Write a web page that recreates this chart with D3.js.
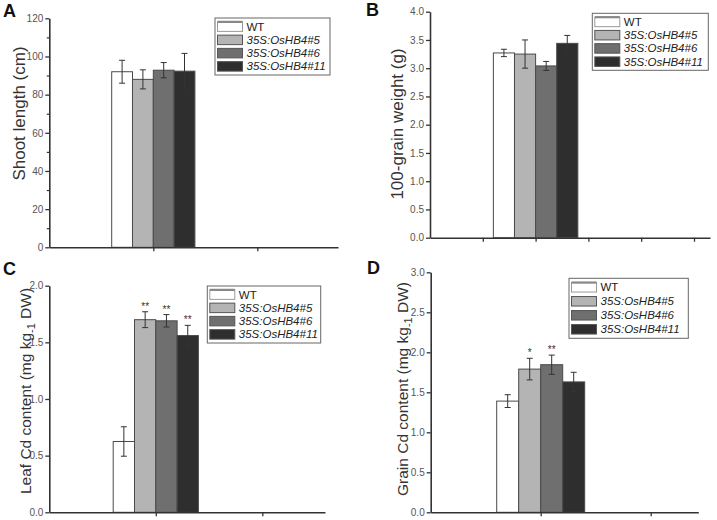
<!DOCTYPE html>
<html><head><meta charset="utf-8">
<script src="https://cdn.jsdelivr.net/npm/d3@7"></script>
<style>body{margin:0;background:#fff}svg{display:block;font-family:Arial,'Liberation Sans',sans-serif}</style>
</head><body><svg id="c" width="717" height="520"></svg>
<script>
// ---- data ----
const genotypes = ["WT", "35S:OsHB4#5", "35S:OsHB4#6", "35S:OsHB4#11"];
const shootLength = [92.0, 88.0, 92.8, 92.3];
const shootLengthErr = [6.0, 5.0, 4.0, 9.3];
const grainWeight = [3.27, 3.25, 3.04, 3.44];
const grainWeightErr = [0.065, 0.25, 0.08, 0.14];
const leafCd = [0.625, 1.70, 1.69, 1.56];
const leafCdErr = [0.13, 0.07, 0.055, 0.09];
const leafCdSig = ["", "**", "**", "**"];
const grainCd = [1.39, 1.79, 1.845, 1.63];
const grainCdErr = [0.08, 0.135, 0.12, 0.12];
const grainCdSig = ["", "*", "**", ""];
const yTicksA = [0, 20, 40, 60, 80, 100, 120];
const yTicksB = [0, 0.5, 1.0, 1.5, 2.0, 2.5, 3.0, 3.5, 4.0];
const yTicksC = [0, 0.5, 1.0, 1.5, 2.0];
const yTicksD = [0, 0.5, 1.0, 1.5, 2.0, 2.5, 3.0];

// ---- styles / layout ----
const fills = ["#ffffff", "#b4b4b4", "#6f6f6f", "#2e2e2e"];
const panels = [
  {letter:"A", v:shootLength, e:shootLengthErr, sig:null, yt:yTicksA, fmt:d3.format("d"), minor:10,
   x0:49.3, x1:338, yB:247.3, yT:18.3, unit:104, xt:[1,2],
   label:["Shoot length (cm)"], lx:19, ly:113.5, fx:3, fy:17, leg:{x:215, y:18, w:115, h:57}},
  {letter:"B", v:grainWeight, e:grainWeightErr, sig:null, yt:yTicksB, fmt:d3.format(".1f"), minor:null,
   x0:430, x1:710, yB:237.7, yT:11.7, unit:105.6, xt:[0.5,1,1.5,2,2.5],
   label:["100-grain weight (g)"], lx:397.5, ly:124, fx:366, fy:16, leg:{x:592.3, y:13.3, w:116, h:57}},
  {letter:"C", v:leafCd, e:leafCdErr, sig:leafCdSig, yt:yTicksC, fmt:d3.format(".1f"), minor:null,
   x0:49.3, x1:325, yB:512.3, yT:285.7, unit:106.5, xt:[1,2],
   label:["Leaf Cd content (mg kg", "-1", " DW)"], lx:25, ly:391, fx:3, fy:275, leg:{x:207.3, y:286, w:113.4, h:57}},
  {letter:"D", v:grainCd, e:grainCdErr, sig:grainCdSig, yt:yTicksD, fmt:d3.format(".1f"), minor:null,
   x0:430.7, x1:698.3, yB:512.3, yT:272.3, unit:110, xt:[1,2],
   label:["Grain Cd content (mg kg", "-1", " DW)"], lx:402, ly:389, fx:367, fy:274, leg:{x:569, y:278.3, w:119.3, h:60}}
];

const svg = d3.select("#c");
svg.append("rect").attr("width",717).attr("height",520).attr("fill","#fff");

panels.forEach(p => {
  const g = svg.append("g");
  const yMax = p.yt[p.yt.length-1];
  const y = d3.scaleLinear().domain([0, yMax]).range([p.yB, p.yT]);
  const x = d3.scaleLinear().domain([0, (p.x1 - p.x0)/p.unit]).range([p.x0, p.x1]);
  const bw = 0.2;

  // bars
  const bars = g.append("g");
  p.v.forEach((val, i) => {
    const xl = 1 + (i - 2) * bw;
    bars.append("rect")
      .attr("x", x(xl)).attr("y", y(val))
      .attr("width", x(xl + bw) - x(xl)).attr("height", y(0) - y(val))
      .attr("fill", fills[i]).attr("stroke", "#4a4a4a").attr("stroke-width", 1);
    const cx = x(xl + bw/2);
    const top = y(val + p.e[i]), bot = y(val - p.e[i]);
    bars.append("line").attr("x1",cx).attr("x2",cx).attr("y1",top).attr("y2",bot).attr("stroke","#333").attr("stroke-width",1);
    [top, bot].forEach(yy => bars.append("line").attr("x1",cx-3).attr("x2",cx+3).attr("y1",yy).attr("y2",yy).attr("stroke","#333").attr("stroke-width",1));
    if (p.sig && p.sig[i]) {
      bars.append("text").attr("x", cx).attr("y", top - 2).attr("text-anchor","middle")
        .attr("font-size", 10).attr("fill","#333").text(p.sig[i]);
    }
  });

  // y axis
  if (p.minor) {
    const minorTicks = d3.range(p.minor, yMax, p.minor * 2);
    g.append("g").attr("transform", `translate(${p.x0},0)`)
      .call(d3.axisLeft(y).tickValues(minorTicks).tickSize(2.5).tickFormat("").tickSizeOuter(0))
      .call(s => s.select(".domain").remove())
      .selectAll("line").attr("stroke","#333").attr("stroke-width",1.2);
  }
  const ya = g.append("g").attr("transform", `translate(${p.x0},0)`)
    .call(d3.axisLeft(y).tickValues(p.yt).tickFormat(p.fmt).tickSize(4).tickPadding(2).tickSizeOuter(0));
  ya.select(".domain").attr("stroke","#333").attr("stroke-width",1.6);
  ya.selectAll(".tick line").attr("stroke","#333").attr("stroke-width",1.3);
  ya.selectAll(".tick text").attr("font-size",10).attr("fill","#555").attr("font-family","Arial,'Liberation Sans',sans-serif");

  // x axis
  const xa = g.append("g").attr("transform", `translate(0,${p.yB})`)
    .call(d3.axisBottom(x).tickValues(p.xt).tickFormat("").tickSize(4).tickSizeOuter(0));
  xa.select(".domain").attr("stroke","#333").attr("stroke-width",1.6);
  xa.selectAll(".tick line").attr("stroke","#333").attr("stroke-width",1.3);

  // y label
  const t = g.append("text").attr("transform", `translate(${p.lx},${p.ly}) rotate(-90)`)
    .attr("text-anchor","middle").attr("dominant-baseline","central")
    .attr("font-size", p.label.length > 1 ? 15.5 : 17).attr("fill","#333");
  if (p.label.length === 1) t.text(p.label[0]);
  else {
    t.append("tspan").text(p.label[0]);
    t.append("tspan").attr("dy", 6).attr("font-size", 11).text(p.label[1]);
    t.append("tspan").attr("dy", -6).text(p.label[2]);
  }

  // panel letter
  g.append("text").attr("x", p.fx).attr("y", p.fy).attr("font-size", 18).attr("font-weight","bold")
    .attr("fill","#111").text(p.letter);

  // legend
  const L = p.leg;
  const lg = g.append("g");
  lg.append("rect").attr("x",L.x).attr("y",L.y).attr("width",L.w).attr("height",L.h)
    .attr("fill","#fff").attr("stroke","#666").attr("stroke-width",1);
  const rowH = (L.h - 4) / 4;
  genotypes.forEach((name, i) => {
    const cy = L.y + 2 + rowH * (i + 0.5);
    const sw = 25, sh = 9.5;
    lg.append("rect").attr("x", L.x + 2.5).attr("y", cy - sh/2).attr("width", sw).attr("height", sh)
      .attr("fill", fills[i]).attr("stroke", i === 0 ? "#999" : "#555").attr("stroke-width", 1);
    if (i === 0) {
      lg.append("line").attr("x1", L.x + 2.5).attr("x2", L.x + 2.5 + sw).attr("y1", cy - sh/2).attr("y2", cy - sh/2)
        .attr("stroke","#888").attr("stroke-width",2.2);
    }
    lg.append("text").attr("x", L.x + 31.5).attr("y", cy).attr("dominant-baseline","central")
      .attr("font-size", 11.5).attr("fill","#222")
      .attr("font-style", i === 0 ? "normal" : "italic").text(name);
  });
});
</script>
</body></html>
